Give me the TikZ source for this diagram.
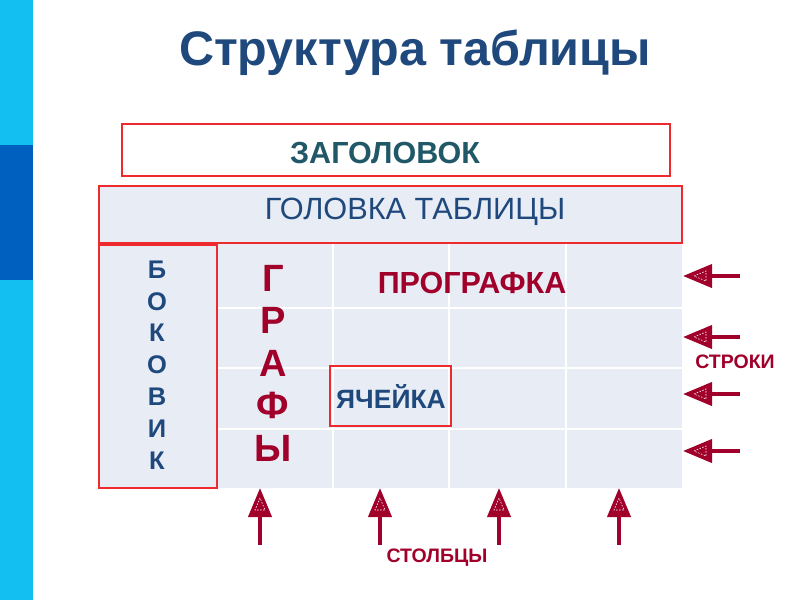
\documentclass[tikz,border=0pt]{standalone}
\usepackage{fontspec}
\setmainfont{Liberation Sans}
\usetikzlibrary{arrows.meta}
\definecolor{sidelight}{HTML}{13BEF0}
\definecolor{sidedark}{HTML}{0060BF}
\definecolor{titleblue}{HTML}{1F497D}
\definecolor{tealdark}{HTML}{215868}
\definecolor{darkred}{HTML}{A0002A}
\definecolor{boxred}{HTML}{EE2A2E}
\definecolor{cellfill}{HTML}{E8ECF5}
\begin{document}
\begin{tikzpicture}[x=1pt, y=-1pt]
    % Define styles
    \tikzstyle{frame} = [draw=boxred, line width=1.5pt, rectangle, inner sep=0pt]
    \tikzstyle{redtext} = [text=darkred, font=\bfseries]
    \tikzstyle{bluetext} = [text=titleblue, font=\bfseries]
    \tikzstyle{pointer} = [draw=darkred, line width=4pt, -{Triangle[length=29pt, width=23pt]}]
    \tikzstyle{hatch} = [draw=white, line width=0.6pt, dash pattern=on 1.5pt off 1.5pt]

    % Canvas and side strip
    \useasboundingbox (0,0) rectangle (800,600);
    \fill[white] (0,0) rectangle (800,600);
    \fill[sidelight] (0,0) rectangle (33,600);
    \fill[sidedark] (0,145) rectangle (33,280);

    % Title
    \node[bluetext, font=\bfseries\fontsize{48.5}{58}\selectfont] (title) at (415,53) {Структура таблицы};

    % Boxes
    \node[frame, fill=white, minimum width=548pt, minimum height=52pt] (zag) at (396,150) {};
    \node[text=tealdark, font=\bfseries\fontsize{30.5}{36}\selectfont] (zagtext) at (385,153) {ЗАГОЛОВОК};
    \node[frame, fill=cellfill, minimum width=583pt, minimum height=57pt] (head) at (390.5,214.5) {};
    \node[text=titleblue, font=\fontsize{30.7}{36}\selectfont] (headtext) at (415,212) {ГОЛОВКА ТАБЛИЦЫ};

    % Table body
    \fill[cellfill] (217,244) rectangle (682,488);
    \foreach \x in {333,449,566}
        \draw[white, line width=1.5pt] (\x,244) -- (\x,488);
    \foreach \y in {308,368,429}
        \draw[white, line width=1.5pt] (217,\y) -- (682,\y);
    \node[frame, fill=cellfill, minimum width=118pt, minimum height=243pt] (side) at (158,366.5) {};
    \node[bluetext, font=\bfseries\fontsize{25.5}{31.8}\selectfont, align=center] (sidetext) at (157,365) {Б\\О\\К\\О\\В\\И\\К};
    \node[redtext, font=\bfseries\fontsize{38}{42.5}\selectfont, align=center] (graphs) at (273,363) {Г\\Р\\А\\Ф\\Ы};
    \node[redtext, font=\bfseries\fontsize{30.5}{36}\selectfont] (prograf) at (472,283) {ПРОГРАФКА};
    \node[frame, line width=2.5pt, minimum width=121pt, minimum height=60pt] (cell) at (390.5,396) {};
    \node[text=titleblue, font=\bfseries\fontsize{26.5}{31}\selectfont] (celltext) at (391,396) {ЯЧЕЙКА};

    % Row arrows
    \foreach \y/\n in {276/1, 337/2, 394/3, 451/4} {
        \coordinate (rowtail\n) at (740,\y);
        \coordinate (rowtip\n) at (683,\y);
        \draw[pointer] (rowtail\n) -- (rowtip\n);
        \draw[hatch] (694,\y) -- (706,\y-5) -- (706,\y+5) -- cycle;
    }
    \node[redtext, font=\bfseries\fontsize{19.5}{23}\selectfont] (rows) at (735,362) {СТРОКИ};

    % Column arrows
    \foreach \x/\n in {260/1, 380/2, 499/3, 619/4} {
        \coordinate (coltail\n) at (\x,545);
        \coordinate (coltip\n) at (\x,488);
        \draw[pointer] (coltail\n) -- (coltip\n);
        \draw[hatch] (\x,498) -- (\x-5,510) -- (\x+5,510) -- cycle;
    }
    \node[redtext, font=\bfseries\fontsize{19.5}{23}\selectfont] (cols) at (437,558) {СТОЛБЦЫ};
\end{tikzpicture}
\end{document}
